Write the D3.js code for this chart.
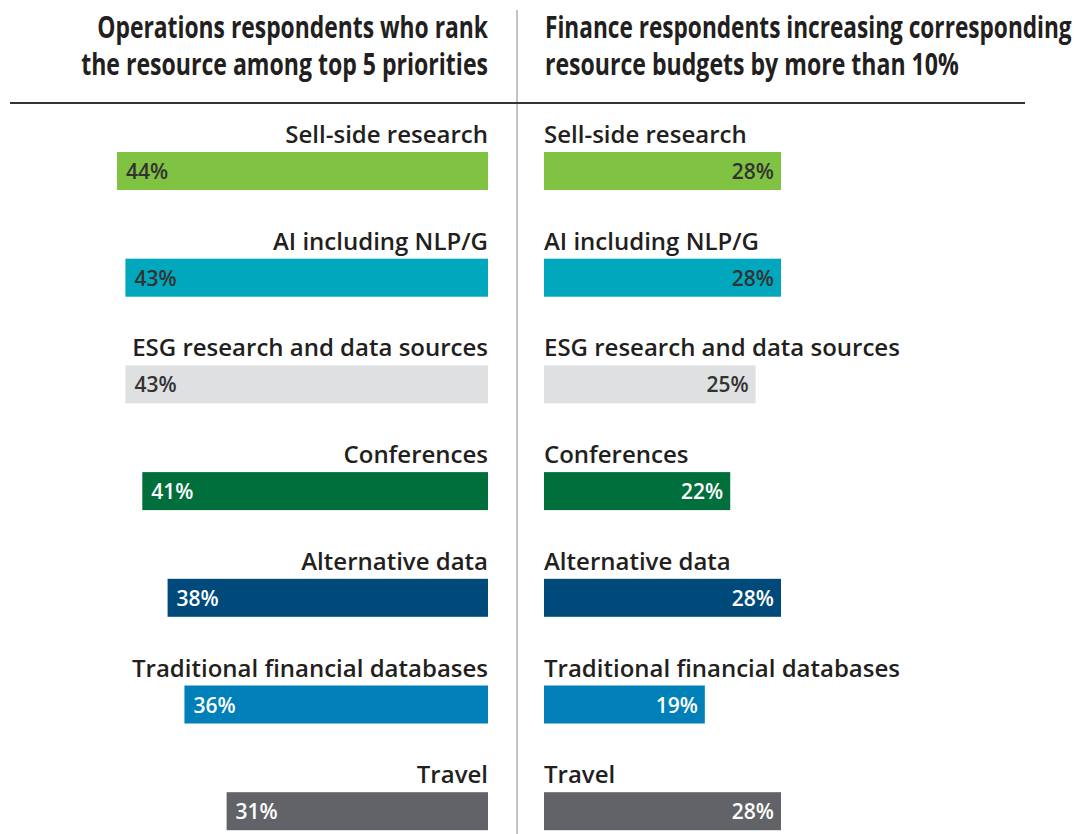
<!DOCTYPE html>
<html>
<head>
<meta charset="utf-8">
<script src="https://cdn.jsdelivr.net/npm/d3@7"></script>
<style>
  body { margin: 0; background: #fff; }
  svg { display: block; }
</style>
</head>
<body>
<div id="chart-area"></div>
<script>
// data
var categories = ["Sell-side research", "AI including NLP/G", "ESG research and data sources",
    "Conferences", "Alternative data", "Traditional financial databases", "Travel"];
var operationsValues = [44, 43, 43, 41, 38, 36, 31];
var financeValues = [28, 28, 25, 22, 28, 19, 28];
var barColors = ["#80c242", "#00a7bd", "#dfe0e2", "#006f3b", "#004a7b", "#007fb9", "#616369"];
var darkText = [false, false, false, true, true, true, true];
var leftTitle = ["Operations respondents who rank", "the resource among top 5 priorities"];
var rightTitle = ["Finance respondents increasing corresponding", "resource budgets by more than 10%"];

var width = 1081;
var height = 834;

var svg = d3.select("#chart-area").append("svg")
    .attr("width", width)
    .attr("height", height);

var leftEdge = 488;
var rightEdge = 544;
var barHeight = 38;

var y = d3.scaleBand()
    .domain(categories)
    .range([152, 152 + 7 * 106.7]);

var xLeft = d3.scaleLinear().domain([0, 44]).range([leftEdge, leftEdge - 371]);
var xRight = d3.scaleLinear().domain([0, 28]).range([rightEdge, rightEdge + 237]);

// dividers
svg.append("line")
    .attr("x1", 517).attr("x2", 517)
    .attr("y1", 10).attr("y2", height)
    .attr("stroke", "#c4c4c4")
    .attr("stroke-width", 2);

svg.append("line")
    .attr("x1", 10).attr("x2", 1025)
    .attr("y1", 103).attr("y2", 103)
    .attr("stroke", "#333")
    .attr("stroke-width", 2);

// titles - no condensed font installed, so squeeze bold text horizontally
function title(lines, widths, x, anchor) {
    svg.append("g").selectAll("text")
        .data(lines)
        .enter().append("text")
            .attr("text-anchor", anchor)
            .style("font-family", "'Open Sans', sans-serif")
            .style("font-weight", "bold")
            .style("font-size", "30px")
            .style("fill", "#231f20")
            .text((d) => d)
            .attr("transform", function(d, i) {
                var s = widths[i] / this.getComputedTextLength();
                return "translate(" + x + "," + (38 + i * 37) + ") scale(" + s + ",1)";
            });
}
title(leftTitle, [391, 407], leftEdge, "end");
title(rightTitle, [527, 414], 545, "start");

var labelFont = "'Open Sans', sans-serif";

// left panel
var left = svg.append("g");

left.selectAll("text.cat")
    .data(categories)
    .enter().append("text")
        .attr("class", "cat")
        .attr("x", leftEdge)
        .attr("y", (d) => y(d) - 9)
        .attr("text-anchor", "end")
        .style("font-family", labelFont)
        .style("font-weight", 600)
        .style("font-size", "24px")
        .style("fill", "#231f20")
        .text((d) => d);

left.selectAll("rect")
    .data(operationsValues)
    .enter().append("rect")
        .attr("x", (d) => xLeft(d))
        .attr("y", (d, i) => y(categories[i]))
        .attr("width", (d) => xLeft(0) - xLeft(d))
        .attr("height", barHeight)
        .attr("fill", (d, i) => barColors[i]);

left.selectAll("text.val")
    .data(operationsValues)
    .enter().append("text")
        .attr("class", "val")
        .attr("x", (d) => xLeft(d) + 9)
        .attr("y", (d, i) => y(categories[i]) + 27)
        .style("font-family", labelFont)
        .style("font-weight", 600)
        .style("font-size", "21px")
        .style("fill", (d, i) => darkText[i] ? "#fff" : "#333")
        .text((d) => d + "%");

// right panel
var right = svg.append("g");

right.selectAll("text.cat")
    .data(categories)
    .enter().append("text")
        .attr("class", "cat")
        .attr("x", rightEdge)
        .attr("y", (d) => y(d) - 9)
        .style("font-family", labelFont)
        .style("font-weight", 600)
        .style("font-size", "24px")
        .style("fill", "#231f20")
        .text((d) => d);

right.selectAll("rect")
    .data(financeValues)
    .enter().append("rect")
        .attr("x", xRight(0))
        .attr("y", (d, i) => y(categories[i]))
        .attr("width", (d) => xRight(d) - xRight(0))
        .attr("height", barHeight)
        .attr("fill", (d, i) => barColors[i]);

right.selectAll("text.val")
    .data(financeValues)
    .enter().append("text")
        .attr("class", "val")
        .attr("x", (d) => xRight(d) - 7)
        .attr("y", (d, i) => y(categories[i]) + 27)
        .attr("text-anchor", "end")
        .style("font-family", labelFont)
        .style("font-weight", 600)
        .style("font-size", "21px")
        .style("fill", (d, i) => darkText[i] ? "#fff" : "#333")
        .text((d) => d + "%");
</script>
</body>
</html>
